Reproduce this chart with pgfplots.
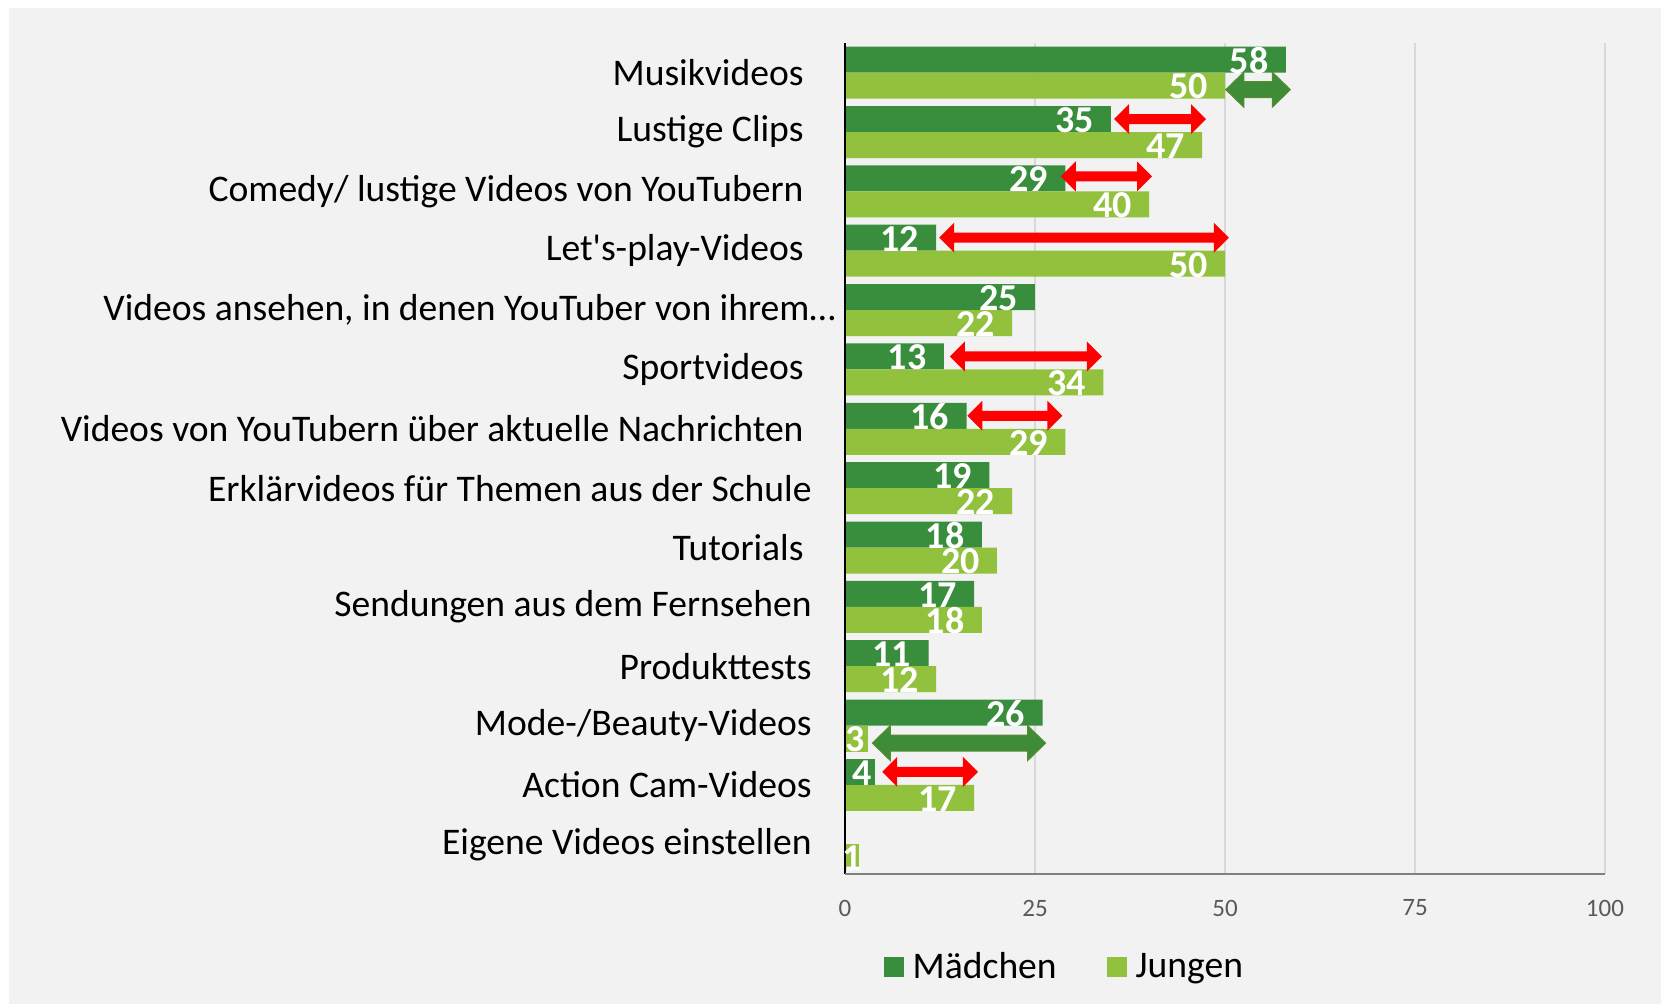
\documentclass[border=0pt]{standalone}
\usepackage{pgfplots}
\usepackage{pgfplotstable}
\pgfplotsset{compat=1.18}
\usepackage{fontspec}
\setmainfont{Carlito}
\definecolor{dgreen}{RGB}{56,142,60}
\definecolor{lgreen}{RGB}{146,193,62}
\definecolor{agreen}{RGB}{62,140,56}
\definecolor{agreenb}{RGB}{84,140,50}
\definecolor{bg}{RGB}{242,242,242}
\definecolor{tickgray}{RGB}{89,89,89}
\definecolor{gridgray}{RGB}{217,217,217}
\definecolor{axgray}{RGB}{128,128,128}

% Mädchen (y = position from bottom, v = value)
\pgfplotstableread{
y v
13 58
12 35
11 29
10 12
9 25
8 13
7 16
6 19
5 18
4 17
3 11
2 26
}\maedchen
\pgfplotstableread{
y v m
1 4 4
}\maedchensmall
% Jungen
\pgfplotstableread{
y v
13 50
12 47
11 40
10 50
9 22
8 34
7 29
6 22
5 20
4 18
3 12
1 17
}\jungen
\pgfplotstableread{
y v m
2 3 3
}\jungensmall
\pgfplotstableread{
y v m
0 1.8 1
}\jungenone

\newcommand\dblarrow[8]{%
\path[#1] ([yshift=#5]axis cs:#2,#4)
 -- ([xshift=#6,yshift={#5+#7}]axis cs:#2,#4)
 -- ([xshift=#6,yshift={#5+#8}]axis cs:#2,#4)
 -- ([xshift=-#6,yshift={#5+#8}]axis cs:#3,#4)
 -- ([xshift=-#6,yshift={#5+#7}]axis cs:#3,#4)
 -- ([yshift=#5]axis cs:#3,#4)
 -- ([xshift=-#6,yshift={#5-#7}]axis cs:#3,#4)
 -- ([xshift=-#6,yshift={#5-#8}]axis cs:#3,#4)
 -- ([xshift=#6,yshift={#5-#8}]axis cs:#2,#4)
 -- ([xshift=#6,yshift={#5-#7}]axis cs:#2,#4)
 -- cycle;}

\begin{document}
\begin{tikzpicture}
\fill[white] (0,0) rectangle (830.5pt,502pt);
\fill[bg] (4.5pt,0) rectangle (830.5pt,498pt);
\begin{axis}[
  at={(422.5pt,65pt)}, anchor=south west,
  scale only axis, width=380pt, height=415.5pt,
  xmin=0, xmax=100, ymin=-0.5, ymax=13.5,
  clip=false,
  xbar, bar width=13pt,
  axis line style={draw=none},
  xmajorgrids, grid style={gridgray, line width=1pt},
  xtick={0,25,50,75,100},
  ytick={0,1,...,13},
  yticklabels={
    Eigene Videos einstellen,
    Action Cam-Videos,
    Mode-/Beauty-Videos,
    Produkttests,
    Sendungen aus dem Fernsehen,
    Tutorials\kern4pt,
    Erklärvideos für Themen aus der Schule,
    Videos von YouTubern über aktuelle Nachrichten\kern4pt,
    Sportvideos\kern4pt,
    {Videos ansehen, in denen YouTuber von ihrem…\kern-12pt},
    Let\textquotesingle s-play-Videos\kern4pt,
    Comedy/ lustige Videos von YouTubern\kern4pt,
    Lustige Clips\kern4pt,
    Musikvideos\kern4pt},
  major tick length=0pt,
  tick style={draw=none},
  /pgf/number format/assume math mode=true,
  xticklabel style={font=\fontsize{12.5}{14}\selectfont, text=tickgray, anchor=center, yshift=-17pt},
  yticklabel style={font=\fontsize{18.8}{22}\selectfont, text=black, anchor=east, inner sep=0pt, xshift=-16.5pt},
  point meta=x,
  nodes near coords={\pgfmathprintnumber{\pgfplotspointmeta}},
  nodes near coords style={font=\fontsize{19}{22}\selectfont\bfseries, text=white, anchor=east, inner sep=0pt, xshift=-8.5pt, yshift=-0.5pt},
  legend image code/.code={\fill[#1, draw=none] (0pt,-5pt) rectangle (10pt,5pt); \path (12.5pt,0pt);},
  legend style={at={(0.29,-0.112)}, anchor=center, draw=none, fill=none,
    legend columns=2, font=\fontsize{18.8}{22}\selectfont,
    /tikz/every even column/.append style={column sep=23pt}},
]
\addplot[fill=dgreen, draw=none, bar shift=6.5pt] table[x=v, y=y] {\maedchen};
\addlegendentry{Mädchen}
\addplot[fill=lgreen, draw=none, bar shift=-6.5pt] table[x=v, y=y] {\jungen};
\addlegendentry{Jungen}
\addplot[fill=dgreen, draw=none, bar shift=6.5pt, forget plot, point meta=\thisrow{m},
  nodes near coords style={xshift=7pt}] table[x=v, y=y] {\maedchensmall};
\addplot[fill=lgreen, draw=none, bar shift=-6.5pt, forget plot, point meta=\thisrow{m},
  nodes near coords style={xshift=7pt}] table[x=v, y=y] {\jungensmall};
\addplot[fill=lgreen, draw=none, bar shift=-6.5pt, forget plot, point meta=\thisrow{m},
  nodes near coords style={xshift=10pt}] table[x=v, y=y] {\jungenone};

\draw[black, line width=0.7pt] (axis cs:0,-0.5) -- (axis cs:0,13.5);
\draw[axgray, line width=1pt] (axis cs:0,-0.5) -- (axis cs:100,-0.5);

% red arrows (Mädchen level)
\dblarrow{fill=red}{35.4}{47.5}{12}{6.5pt}{7.5pt}{7.5pt}{2.5pt}
\dblarrow{fill=red}{28.4}{40.4}{11}{7.5pt}{7.5pt}{7.5pt}{2.5pt}
\dblarrow{fill=red}{12.4}{50.5}{10}{6.5pt}{7.5pt}{7.5pt}{2.5pt}
\dblarrow{fill=red}{13.8}{33.8}{8}{6.5pt}{7.5pt}{7.5pt}{2.5pt}
\dblarrow{fill=red}{16.1}{28.6}{7}{6.5pt}{7.5pt}{7.5pt}{2.5pt}
\dblarrow{fill=red}{4.9}{17.5}{1}{6.5pt}{7.5pt}{7.5pt}{2.5pt}
% green arrows (Jungen level)
\dblarrow{fill=agreen, draw=agreenb, line width=0.5pt}{50.1}{58.6}{13}{-8.5pt}{9pt}{8.75pt}{4pt}
\dblarrow{fill=agreen, draw=agreenb, line width=0.5pt}{3.6}{26.4}{2}{-8.75pt}{9pt}{8.75pt}{4pt}
\end{axis}
\end{tikzpicture}
\end{document}
